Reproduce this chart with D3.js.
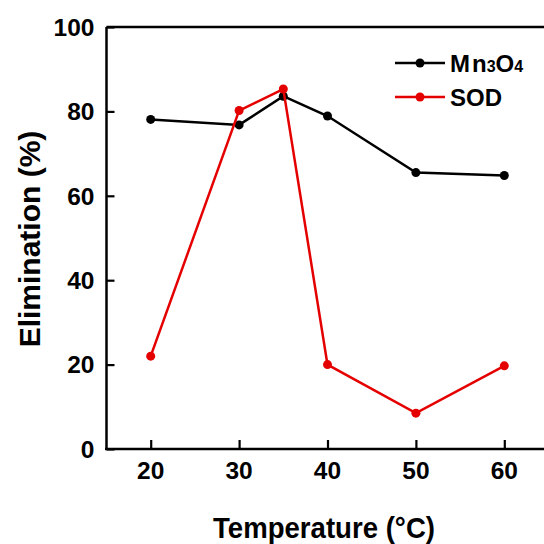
<!DOCTYPE html>
<html><head><meta charset="utf-8">
<script src="https://cdn.jsdelivr.net/npm/d3@7"></script>
<style>body{margin:0;background:#fff}svg{display:block}text{font-family:"Liberation Sans",Arial,sans-serif;font-weight:bold}</style>
</head><body><svg id="c" width="544" height="544"></svg>
<script>
const temps = [20, 30, 35, 40, 50, 60];
const mn3o4 = [78.1, 76.8, 83.6, 78.9, 65.5, 64.8];
const sod = [22.0, 80.2, 85.3, 20.0, 8.5, 19.7];
const xTicks = [20, 30, 40, 50, 60];
const yTicks = [0, 20, 40, 60, 80, 100];
const xTitle = "Temperature (°C)";
const yTitle = "Elimination (%)";
const series = [
  {name: "Mn3O4", values: mn3o4, color: "#000000"},
  {name: "SOD", values: sod, color: "#e50000"}
];

const svg = d3.select("#c");
const x = d3.scaleLinear().domain([15, 65]).range([106.5, 548.5]);
const y = d3.scaleLinear().domain([0, 100]).range([449, 27]);

// top border
svg.append("line").attr("x1", 106.5).attr("x2", 544).attr("y1", 27).attr("y2", 27)
  .attr("stroke", "#000").attr("stroke-width", 2.5);

// y axis
const yAx = svg.append("g").attr("transform", "translate(106.5,0)");
yAx.call(d3.axisRight(y).tickValues(d3.range(10, 100, 20)).tickSize(5).tickFormat(""));
yAx.call(d3.axisRight(y).tickValues(yTicks).tickSize(8).tickFormat(""));
yAx.selectAll(".domain").remove();
yAx.append("line").attr("y1", 27).attr("y2", 450).attr("stroke", "#000").attr("stroke-width", 2.5);
yAx.selectAll(".tick line").attr("stroke-width", 2.2);
yAx.selectAll(".ylab").data(yTicks).enter().append("text")
  .attr("x", -12).attr("y", d => y(d)).attr("dy", "0.36em")
  .attr("text-anchor", "end").attr("font-size", 24.5).attr("fill", "#000").text(d => d);

// x axis
const xAx = svg.append("g").attr("transform", "translate(0,449)");
xAx.call(d3.axisTop(x).tickValues([25, 35, 45, 55]).tickSize(5).tickFormat(""));
xAx.call(d3.axisTop(x).tickValues(xTicks).tickSize(9).tickFormat(""));
xAx.selectAll(".domain").remove();
xAx.append("line").attr("x1", 105).attr("x2", 544).attr("stroke", "#000").attr("stroke-width", 2.5);
xAx.selectAll(".tick line").attr("stroke-width", 2.2);
xAx.selectAll(".xlab").data(xTicks).enter().append("text")
  .attr("x", d => x(d)).attr("y", 30)
  .attr("text-anchor", "middle").attr("font-size", 24.5).attr("fill", "#000").text(d => d);

// titles
svg.append("text").attr("x", 213).attr("y", 538)
  .attr("font-size", 30).attr("textLength", 222).attr("lengthAdjust", "spacingAndGlyphs")
  .attr("fill", "#000").text(xTitle);
svg.append("text").attr("transform", "translate(40,239) rotate(-90)").attr("text-anchor", "middle")
  .attr("font-size", 30).attr("fill", "#000").text(yTitle);

// series
const line = d3.line().x((d, i) => x(temps[i])).y(d => y(d));
series.forEach(s => {
  const g = svg.append("g");
  g.append("path").attr("d", line(s.values)).attr("fill", "none")
    .attr("stroke", s.color).attr("stroke-width", 2.5);
  g.selectAll("circle").data(s.values).enter().append("circle")
    .attr("cx", (d, i) => x(temps[i])).attr("cy", d => y(d)).attr("r", 4.5).attr("fill", s.color);
});

// legend
const leg = svg.append("g");
series.forEach((s, i) => {
  const ly = 63 + i * 34;
  leg.append("line").attr("x1", 395).attr("x2", 445).attr("y1", ly).attr("y2", ly)
    .attr("stroke", s.color).attr("stroke-width", 2.5);
  leg.append("circle").attr("cx", 420).attr("cy", ly).attr("r", 4.5).attr("fill", s.color);
  const t = leg.append("text").attr("x", 450).attr("y", ly + 8.5).attr("font-size", 24).attr("fill", "#000");
  if (s.name === "Mn3O4") {
    t.append("tspan").text("M").attr("letter-spacing", 2);
    t.append("tspan").text("n");
    t.append("tspan").text("3").attr("font-size", 16);
    t.append("tspan").text("O");
    t.append("tspan").text("4").attr("font-size", 16);
  } else {
    t.text(s.name);
  }
});
</script></body></html>
